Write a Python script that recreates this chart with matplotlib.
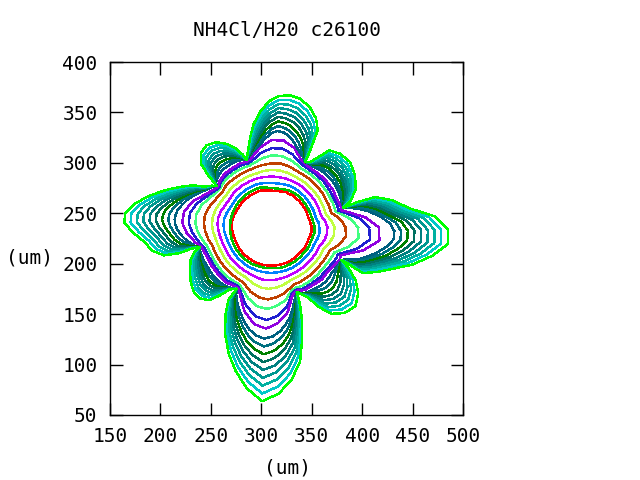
import numpy as np
import matplotlib
matplotlib.use("Agg")
import matplotlib.pyplot as plt

title = "NH4Cl/H20 c26100"
x_label = "(um)"
y_label = "(um)"
x_ticks = [150, 200, 250, 300, 350, 400, 450, 500]
y_ticks = [50, 100, 150, 200, 250, 300, 350, 400]

# ---- inner contours 1..9 : radius (um) around the seed centre at given angles
center_x, center_y = 310, 236
angles_deg = [0, 6, 11, 14, 16, 22, 32, 42, 51, 57,
              63, 66, 74, 82, 90, 98, 105, 110, 116, 124,
              132, 138, 143, 152, 162, 170, 177, 184, 191, 194,
              195.5, 203, 213, 222, 231, 240.5, 242, 252, 260, 267,
              274, 281, 287, 291.5, 298, 306, 314, 322, 329, 335,
              338, 346, 353]
r01 = [40, 39, 38.5, 38, 38, 38, 38, 38, 38, 38,
       37.5, 38, 37, 36.5, 36.5, 37, 38, 38, 38, 38,
       38, 38, 38, 38, 39, 39.5, 39.5, 39, 38.5, 38.5,
       38, 38, 38, 38, 38, 38, 38, 38, 38, 38,
       38, 38, 38, 38, 38, 38, 38, 38, 38.5, 38.5,
       38.5, 39, 40]
r02 = [43, 42, 41.5, 41, 41, 41, 41, 41, 41, 41,
       40.5, 40.5, 39.5, 39, 39, 40, 41, 41, 41, 41,
       41, 41, 41, 41, 41, 41, 41, 41, 41, 41,
       41, 41, 41, 41, 41, 41, 41, 40.5, 40.5, 40.5,
       40.5, 41, 41, 41, 41, 41, 41, 41, 41.5, 41.5,
       41.5, 42, 43]
r03 = [47.5, 47, 45.5, 45, 45, 45, 45, 45, 45, 45,
       45, 45, 44.5, 44, 44, 44.5, 45, 45, 45, 45,
       45, 45, 45, 45, 46.5, 47.5, 47.5, 47, 46, 45.5,
       45.5, 45, 45, 45, 45, 45, 45, 45, 45, 45,
       45, 45, 45, 45, 45, 45, 45, 45, 45.5, 45.5,
       45.5, 47, 48]
r04 = [55.5, 54, 51.5, 50.5, 50.5, 50.5, 50.5, 50.5, 50.5, 50.5,
       50.5, 50.5, 50.5, 50.5, 50.5, 50.5, 50.5, 50.5, 50.5, 50.5,
       50.5, 50.5, 50, 50.5, 52.5, 53.5, 53.5, 52.5, 51.5, 51,
       51, 50.5, 50.5, 50.5, 50.5, 50.5, 50.5, 51.5, 52.5, 52.5,
       52, 51.5, 51, 50.5, 50.5, 50.5, 50.5, 50.5, 51, 51,
       51, 54, 55.5]
r05 = [62.5, 60, 57, 55.5, 55.5, 55.5, 55.5, 55.5, 55.5, 55.5,
       55.5, 55.5, 56.5, 57, 57, 56.5, 55.5, 55.5, 55.5, 55.5,
       55.5, 55.5, 55, 56, 58, 59, 59, 58, 56.5, 56,
       56, 55.5, 55.5, 55.5, 55.5, 55.5, 55.5, 58.5, 60.5, 61,
       60, 58.5, 56.5, 55.5, 55.5, 55.5, 55.5, 55.5, 56, 56,
       56, 60, 62.5]
r06 = [73.5, 69.5, 64, 61, 61, 61, 61, 61, 61, 61,
       61, 61.5, 63, 64, 63.5, 62.5, 61.5, 61, 61, 61,
       61, 61, 60, 61.5, 65, 67, 67, 65.5, 63.5, 62.5,
       61.5, 61, 61, 61, 61, 61, 61, 67, 70.5, 71.5,
       69.5, 66.5, 63, 61, 61, 61, 61, 61, 61.5, 62,
       62, 69.5, 74.5]
r07 = [86, 79, 70, 65.5, 65.5, 65.5, 65.5, 65.5, 65.5, 65.5,
       65.5, 66.5, 69.5, 71.5, 71.5, 69, 66, 65, 65.5, 65.5,
       65.5, 65, 63.5, 66.5, 72.5, 75.5, 75.5, 73, 69, 67.5,
       66.5, 65.5, 65.5, 65.5, 65.5, 65, 65.5, 74, 79.5, 81,
       78, 73.5, 66.5, 64.5, 65.5, 65.5, 65.5, 65.5, 66, 67,
       67, 79, 87]
r08 = [97, 87.5, 75, 68.5, 69, 68.5, 68.5, 69, 68.5, 68.5,
       69, 70, 75.5, 79, 78.5, 74.5, 69.5, 67.5, 68.5, 68.5,
       68.5, 67.5, 65, 69.5, 77.5, 82, 82, 78.5, 73.5, 71.5,
       70, 68.5, 68.5, 68.5, 68.5, 67, 68, 81.5, 89.5, 92,
       88, 80.5, 69, 66.5, 68.5, 68.5, 69, 69, 70, 71.5,
       71, 87.5, 98.5]
r09 = [106.5, 94, 78.5, 71, 72, 71, 71.5, 71.5, 70.5, 70.5,
       71.5, 73, 82, 87, 86.5, 80, 72.5, 69.5, 70.5, 70.5,
       70.5, 69, 66.5, 72, 82.5, 88, 88.5, 84, 77, 74,
       72, 70.5, 70.5, 70.5, 70.5, 68.5, 69.5, 87, 97.5, 100.5,
       95, 85.5, 71, 67.5, 70.5, 70.5, 72, 71, 73, 75,
       74, 94, 108]
inner_contours = [r01, r02, r03, r04, r05, r06, r07, r08, r09]

# ---- outer contours 10..18 : they meet at the 8 notches between the branches
notch_x = [379.7, 381.3, 343.3, 285.3, 255.7, 239.2, 275.6, 335.1]
notch_y = [203.4, 255.6, 300.9, 302.6, 277.1, 216.6, 175.3, 172.0]

# each branch: local origin, local angles, radii (rows = angles, cols = contours 10..18)
right_origin = (365, 230)
right_angles = [-57, -48, -38, -28, -20, -12, -5, 2, 9, 17, 27, 37, 46, 53]
right_radii = [
    [31, 31.4, 31.8, 32.1, 32.5, 32.9, 33.3, 33.6, 34],
    [35, 37.2, 39.5, 41.7, 43.9, 46.1, 48.4, 50.6, 52.8],
    [41, 43.7, 46.3, 49, 51.6, 54.3, 56.9, 59.6, 62.2],
    [47.5, 50.9, 54.3, 57.6, 61, 64.4, 67.8, 71.1, 74.5],
    [54, 58.5, 63.1, 67.6, 72.2, 76.7, 81.2, 85.8, 90.3],
    [61, 66.7, 72.4, 78.1, 83.9, 89.6, 95.3, 101, 106.7],
    [66.5, 73.3, 80, 86.8, 93.5, 100.3, 107, 113.8, 120.5],
    [67, 73.6, 80.3, 86.9, 93.5, 100.1, 106.8, 113.4, 120],
    [63.5, 69.1, 74.7, 80.3, 85.9, 91.6, 97.2, 102.8, 108.4],
    [56, 59.7, 63.4, 67.1, 70.8, 74.4, 78.1, 81.8, 85.5],
    [47.5, 50.7, 53.8, 57, 60.1, 63.3, 66.4, 69.6, 72.7],
    [40.5, 42.9, 45.4, 47.8, 50.3, 52.7, 55.1, 57.6, 60],
    [35, 36, 37.1, 38.1, 39.1, 40.1, 41.2, 42.2, 43.2],
    [32, 32.3, 32.5, 32.8, 33.1, 33.3, 33.6, 33.8, 34.1]]

ur_origin = (345, 262)
ur_angles = [0, 14, 28, 42, 55, 66, 76, 85]
ur_radii = [
    [34.5, 35.6, 36.8, 37.9, 39.1, 40.2, 41.3, 42.5, 43.6],
    [33, 35.2, 37.3, 39.5, 41.6, 43.8, 45.9, 48.1, 50.2],
    [32.5, 35.2, 38, 40.7, 43.4, 46.1, 48.9, 51.6, 54.3],
    [32.5, 35.7, 38.9, 42.1, 45.3, 48.4, 51.6, 54.8, 58],
    [33, 36.1, 39.1, 42.2, 45.3, 48.3, 51.4, 54.4, 57.5],
    [33.5, 36.2, 38.9, 41.6, 44.4, 47.1, 49.8, 52.5, 55.2],
    [34.5, 35.8, 37, 38.3, 39.5, 40.8, 42, 43.3, 44.5],
    [36.5, 36.8, 37.2, 37.5, 37.8, 38.1, 38.5, 38.8, 39.1]]

top_origin = (315, 290)
top_angles = [28, 38, 46, 54, 63, 72, 80, 88, 96, 105, 115, 126, 140]
top_radii = [
    [30.8, 31.4, 31.9, 32.5, 33.1, 33.6, 34.2, 34.7, 35.3],
    [30.8, 32.6, 34.4, 36.2, 38, 39.7, 41.5, 43.3, 45.1],
    [31.4, 34.8, 38.3, 41.7, 45.2, 48.6, 52, 55.5, 58.9],
    [33.2, 37.4, 41.6, 45.8, 50.1, 54.3, 58.5, 62.7, 66.9],
    [36, 40.6, 45.3, 49.9, 54.5, 59.1, 63.8, 68.4, 73],
    [38.8, 43.6, 48.4, 53.2, 58, 62.8, 67.6, 72.4, 77.2],
    [40.7, 45.4, 50.1, 54.8, 59.5, 64.1, 68.8, 73.5, 78.2],
    [41.6, 46.5, 51.2, 55.8, 60.2, 64.3, 68.4, 72.4, 76.3],
    [40.1, 44, 47.9, 51.8, 55.8, 59.7, 63.6, 67.5, 71.4],
    [36.8, 40, 43.3, 46.5, 49.8, 53, 56.2, 59.5, 62.7],
    [33.8, 36.3, 38.7, 41.2, 43.6, 46.1, 48.5, 51, 53.4],
    [31.8, 33.4, 34.9, 36.5, 38, 39.6, 41.1, 42.7, 44.2],
    [31.3, 31.9, 32.6, 33.2, 33.9, 34.5, 35.1, 35.8, 36.4]]

ul_origin = (279, 278)
ul_angles = [85, 97, 108, 119, 130, 141, 152, 163, 174]
ul_radii = [
    [25.2, 25.8, 26.5, 27.1, 27.7, 28.3, 29, 29.6, 30.2],
    [24, 25.6, 27.2, 28.7, 30.3, 31.9, 33.5, 35, 36.6],
    [23, 25.5, 28, 30.5, 33, 35.4, 37.9, 40.4, 42.9],
    [22.5, 25.8, 29, 32.3, 35.6, 38.8, 42.1, 45.3, 48.6],
    [22.6, 26.2, 29.9, 33.5, 37.1, 40.7, 44.4, 48, 51.6],
    [23, 26.4, 29.8, 33.2, 36.6, 40, 43.4, 46.8, 50.2],
    [23.2, 25.8, 28.3, 30.9, 33.4, 35.9, 38.5, 41, 43.6],
    [23.5, 24.7, 25.9, 27.1, 28.3, 29.4, 30.6, 31.8, 33],
    [24, 24.3, 24.6, 24.9, 25.2, 25.4, 25.7, 26, 26.3]]

left_origin = (259, 247)
left_angles = [105, 118, 131, 143, 154, 164, 172, 178, 184, 191, 199, 207, 215, 222, 229]
left_radii = [
    [30.3, 30.5, 30.6, 30.8, 30.9, 31.1, 31.2, 31.4, 31.5],
    [29.5, 30, 30.5, 30.9, 31.4, 31.9, 32.4, 32.8, 33.3],
    [31, 32.2, 33.4, 34.6, 35.9, 37.1, 38.3, 39.5, 40.7],
    [33.5, 35.4, 37.3, 39.2, 41.1, 43, 44.9, 46.8, 48.7],
    [36.5, 39.4, 42.3, 45.2, 48.1, 50.9, 53.8, 56.7, 59.6],
    [39.5, 43.7, 48, 52.2, 56.5, 60.7, 64.9, 69.2, 73.4],
    [42.5, 47.9, 53.4, 58.8, 64.3, 69.7, 75.1, 80.6, 86],
    [44, 50.3, 56.5, 62.8, 69, 75.3, 81.5, 87.8, 94],
    [45, 51.3, 57.5, 63.8, 70, 76.3, 82.5, 88.8, 95],
    [45, 50.3, 55.5, 60.8, 66.1, 71.3, 76.6, 81.8, 87.1],
    [44, 48.4, 52.7, 57.1, 61.5, 65.8, 70.2, 74.5, 78.9],
    [42.5, 46.6, 50.7, 54.8, 58.9, 63, 67.1, 71.2, 75.3],
    [41, 44.3, 47.6, 50.9, 54.3, 57.6, 60.9, 64.2, 67.5],
    [39.5, 41.4, 43.3, 45.2, 47.1, 48.9, 50.8, 52.7, 54.6],
    [38.5, 39, 39.5, 40, 40.5, 40.9, 41.4, 41.9, 42.4]]

ll_origin = (269, 205)
ll_angles = [168, 182, 196, 210, 222, 233, 244, 256, 268]
ll_radii = [
    [30, 30.7, 31.4, 32.1, 32.8, 33.4, 34.1, 34.8, 35.5],
    [26.5, 28.1, 29.7, 31.2, 32.8, 34.4, 36, 37.5, 39.1],
    [24, 26.2, 28.4, 30.5, 32.7, 34.9, 37.1, 39.2, 41.4],
    [23.3, 26, 28.8, 31.5, 34.2, 36.9, 39.7, 42.4, 45.1],
    [23.5, 26.7, 29.8, 33, 36.1, 39.3, 42.4, 45.6, 48.7],
    [23.8, 27, 30.2, 33.4, 36.6, 39.8, 43, 46.2, 49.4],
    [25, 27.6, 30.2, 32.8, 35.5, 38.1, 40.7, 43.3, 45.9],
    [26.8, 28.1, 29.3, 30.6, 31.9, 33.1, 34.4, 35.6, 36.9],
    [28.5, 28.8, 29.1, 29.3, 29.6, 29.9, 30.2, 30.4, 30.7]]

bottom_origin = (305, 186)
bottom_angles = [210, 222, 234, 244, 252, 260, 268, 276, 284, 292, 300, 310, 322]
bottom_radii = [
    [34.5, 35.6, 36.7, 37.8, 39, 40.1, 41.2, 42.3, 43.4],
    [38.5, 40.5, 42.5, 44.5, 46.5, 48.5, 50.5, 52.5, 54.5],
    [43.5, 46.8, 50, 53.3, 56.6, 59.8, 63.1, 66.3, 69.6],
    [49, 53.4, 57.9, 62.3, 66.8, 71.2, 75.6, 80.1, 84.5],
    [54, 59.5, 64.9, 70.4, 75.8, 81.3, 86.7, 92.2, 97.6],
    [58, 64.7, 71.3, 78, 84.6, 91.3, 97.9, 104.6, 111.2],
    [60.4, 68.2, 75.9, 83.7, 91.4, 99.2, 106.9, 114.7, 122.4],
    [58.5, 65.6, 72.8, 79.9, 87.1, 94.2, 101.3, 108.5, 115.6],
    [55, 61.1, 67.3, 73.4, 79.5, 85.6, 91.8, 97.9, 104],
    [50.5, 55.4, 60.2, 65.1, 70, 74.8, 79.7, 84.5, 89.4],
    [46, 49.1, 52.3, 55.4, 58.5, 61.6, 64.8, 67.9, 71],
    [40.5, 42.3, 44.1, 46, 47.8, 49.6, 51.4, 53.2, 55],
    [35.5, 36.4, 37.2, 38.1, 38.9, 39.8, 40.6, 41.5, 42.3]]

lr_origin = (347, 198)
lr_angles = [256, 270, 283, 295, 307, 319, 331, 343, 355, 363]
lr_radii = [
    [28.3, 28.4, 28.5, 28.6, 28.8, 28.9, 29, 29.1, 29.2],
    [26, 26.8, 27.5, 28.3, 29.1, 29.8, 30.6, 31.3, 32.1],
    [23.5, 25.8, 28, 30.3, 32.5, 34.8, 37, 39.3, 41.5],
    [23, 26.7, 30.4, 34.1, 37.8, 41.5, 45.2, 48.9, 52.6],
    [23, 27.5, 32, 36.4, 40.9, 45.4, 49.9, 54.3, 58.8],
    [23, 27.8, 32.6, 37.4, 42.2, 46.9, 51.7, 56.5, 61.3],
    [23.5, 27.6, 31.7, 35.8, 39.9, 43.9, 48, 52.1, 56.2],
    [24, 27.1, 30.2, 33.2, 36.3, 39.4, 42.5, 45.5, 48.6],
    [27, 28.7, 30.4, 32, 33.7, 35.4, 37.1, 38.7, 40.4],
    [30, 30.8, 31.6, 32.3, 33.1, 33.9, 34.7, 35.4, 36.2]]

branches = [(right_origin, right_angles, right_radii),
            (ur_origin, ur_angles, ur_radii),
            (top_origin, top_angles, top_radii),
            (ul_origin, ul_angles, ul_radii),
            (left_origin, left_angles, left_radii),
            (ll_origin, ll_angles, ll_radii),
            (bottom_origin, bottom_angles, bottom_radii),
            (lr_origin, lr_angles, lr_radii)]

colors = ["#ff0000", "#00c000", "#0080ff", "#c000ff", "#c0ff40",
          "#c04000", "#40ff80", "#2020d0", "#9000e0", "#006080",
          "#007080", "#008000", "#007060", "#008080", "#009890",
          "#00b0a0", "#00c8c8", "#00ff00"]

plt.rcParams['font.family'] = ['DejaVu Sans Mono']
fig = plt.figure(figsize=(6.4, 4.8), dpi=100)
ax = fig.add_axes([110 / 640, 65 / 480, 353 / 640, 353 / 480])

# inner contours
theta = np.deg2rad(np.array(angles_deg + [angles_deg[0]]))
for rad, col in zip(inner_contours, colors[:9]):
    r = np.array(rad + [rad[0]])
    ax.plot(center_x + r * np.cos(theta), center_y + r * np.sin(theta),
            color=col, lw=1.0, antialiased=False)

# outer contours
for k, col in enumerate(colors[9:]):
    xs, ys = [], []
    for i, (org, angs, table) in enumerate(branches):
        xs.append(notch_x[i])
        ys.append(notch_y[i])
        a = np.deg2rad(np.array(angs, dtype=float))
        r = np.array([row[k] for row in table])
        xs.extend(org[0] + r * np.cos(a))
        ys.extend(org[1] + r * np.sin(a))
    xs.append(notch_x[0])
    ys.append(notch_y[0])
    ax.plot(xs, ys, color=col, lw=1.0, antialiased=False)

ax.set_xlim(150, 500)
ax.set_ylim(50, 400)
ax.set_xticks(x_ticks)
ax.set_yticks(y_ticks)
ax.tick_params(direction='in', length=9, width=1, top=True, right=True,
               labelsize=14, pad=9)
for s in ax.spines.values():
    s.set_linewidth(1)
fig.text(287 / 640, 1 - 31 / 480, title, ha='center', va='center', fontsize=14)
fig.text(287 / 640, 1 - 468 / 480, x_label, ha='center', va='center', fontsize=14)
fig.text(30 / 640, 1 - 258 / 480, y_label, ha='center', va='center', fontsize=14)
fig.savefig("out.png", dpi=100)
